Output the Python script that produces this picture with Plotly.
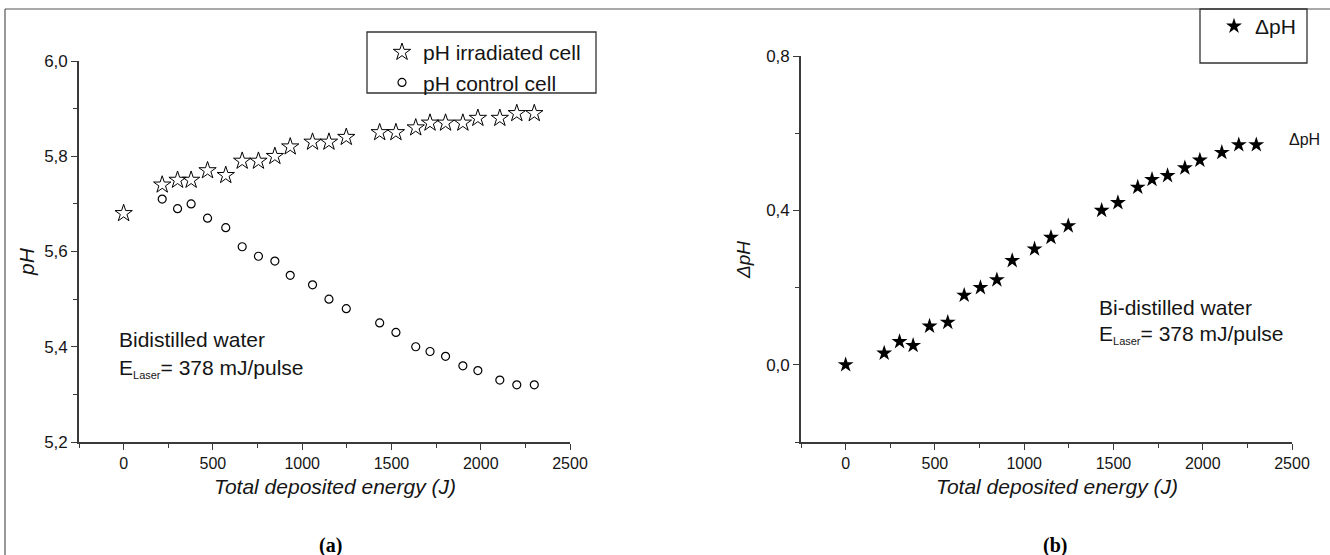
import plotly.graph_objects as go

# ---------------- data ----------------
energy = [0, 216, 302, 378, 470, 572, 664, 755, 847, 933, 1058, 1150, 1247,
          1434, 1525, 1636, 1716, 1803, 1900, 1984, 2107, 2202, 2300]
ph_irradiated = [5.68, 5.74, 5.75, 5.75, 5.77, 5.76, 5.79, 5.79, 5.80, 5.82, 5.83, 5.83, 5.84,
                 5.85, 5.85, 5.86, 5.87, 5.87, 5.87, 5.88, 5.88, 5.89, 5.89]
energy_control = [216, 302, 378, 470, 572, 664, 755, 847, 933, 1058, 1150, 1247,
                  1434, 1525, 1636, 1716, 1803, 1900, 1984, 2107, 2202, 2300]
ph_control = [5.71, 5.69, 5.70, 5.67, 5.65, 5.61, 5.59, 5.58, 5.55, 5.53, 5.50, 5.48,
              5.45, 5.43, 5.40, 5.39, 5.38, 5.36, 5.35, 5.33, 5.32, 5.32]
delta_ph = [0.00, 0.03, 0.06, 0.05, 0.10, 0.11, 0.18, 0.20, 0.22, 0.27, 0.30, 0.33, 0.36,
            0.40, 0.42, 0.46, 0.48, 0.49, 0.51, 0.53, 0.55, 0.57, 0.57]

x_tickvals = [0, 500, 1000, 1500, 2000, 2500]
x_ticktext = ["0", "500", "1000", "1500", "2000", "2500"]
x_minor = [-250, 250, 750, 1250, 1750, 2250]
ph_tickvals = [5.2, 5.4, 5.6, 5.8, 6.0]
ph_ticktext = ["5,2", "5,4", "5,6", "5,8", "6,0"]
ph_minor = [5.3, 5.5, 5.7, 5.9]
d_tickvals = [0.0, 0.4, 0.8]
d_ticktext = ["0,0", "0,4", "0,8"]
d_minor = [-0.2, 0.2, 0.6]

W, H = 1330, 555
FONT = "Arial, Liberation Sans, sans-serif"
AX = "#3a3a3a"
TXT = "#151515"


def px(x):
    return x / W


def py(y):
    return 1 - y / H


fig = go.Figure()

fig.add_trace(go.Scatter(
    x=energy, y=ph_irradiated, mode="markers", name="pH irradiated cell",
    marker=dict(symbol="star-open", size=13, color="black", line=dict(width=1, color="black")),
    xaxis="x", yaxis="y", legend="legend"))
fig.add_trace(go.Scatter(
    x=energy_control, y=ph_control, mode="markers", name="pH control cell",
    marker=dict(symbol="circle-open", size=8, color="black", line=dict(width=1.2, color="black")),
    xaxis="x", yaxis="y", legend="legend"))
fig.add_trace(go.Scatter(
    x=energy, y=delta_ph, mode="markers", name="\u0394pH",
    marker=dict(symbol="star", size=12, color="black", line=dict(width=0)),
    xaxis="x2", yaxis="y2", legend="legend2"))


def xaxis_common(domain, anchor):
    return dict(
        domain=domain, anchor=anchor, range=[-250, 2500],
        tickmode="array", tickvals=x_tickvals, ticktext=x_ticktext,
        ticks="outside", ticklen=6, tickwidth=1.3, tickcolor=AX,
        showline=True, linecolor=AX, linewidth=1.6, showgrid=False, zeroline=False,
        tickfont=dict(family=FONT, size=16, color=TXT), automargin=False,
        minor=dict(tickmode="array", tickvals=x_minor, ticks="outside", ticklen=4,
                   tickwidth=1.2, tickcolor=AX, showgrid=False),
    )


def yaxis_common(domain, anchor, rng, tv, tt, mv):
    return dict(
        domain=domain, anchor=anchor, range=rng,
        tickmode="array", tickvals=tv, ticktext=tt,
        ticks="outside", ticklen=6, tickwidth=1.3, tickcolor=AX,
        showline=True, linecolor=AX, linewidth=1.6, showgrid=False, zeroline=False,
        tickfont=dict(family=FONT, size=17, color=TXT), automargin=False,
        minor=dict(tickmode="array", tickvals=mv, ticks="outside", ticklen=4,
                   tickwidth=1.2, tickcolor=AX, showgrid=False),
    )


fig.update_layout(
    width=W, height=H,
    margin=dict(l=0, r=0, t=0, b=0),
    paper_bgcolor="white", plot_bgcolor="rgba(0,0,0,0)",
    xaxis=xaxis_common([px(79), px(570)], "y"),
    yaxis=yaxis_common([py(442), py(61)], "x", [5.2, 6.0], ph_tickvals, ph_ticktext, ph_minor),
    xaxis2=xaxis_common([px(801), px(1292)], "y2"),
    yaxis2=yaxis_common([py(442), py(56)], "x2", [-0.2, 0.8], d_tickvals, d_ticktext, d_minor),
    legend=dict(x=px(381), y=py(32), xanchor="left", yanchor="top",
                bgcolor="rgba(0,0,0,0)", borderwidth=0,
                font=dict(family=FONT, size=21, color=TXT),
                tracegroupgap=0, itemwidth=32),
    legend2=dict(x=px(1213), y=py(6), xanchor="left", yanchor="top",
                 bgcolor="rgba(0,0,0,0)", borderwidth=0,
                 font=dict(family=FONT, size=21, color=TXT), itemwidth=32),
    showlegend=True,
)

shapes = [
    # outer frame (top and left edges)
    dict(type="line", xref="paper", yref="paper", x0=px(5), x1=1, y0=py(9), y1=py(9),
         line=dict(color="#555", width=1.2)),
    dict(type="line", xref="paper", yref="paper", x0=px(5), x1=px(5), y0=py(9), y1=0,
         line=dict(color="#555", width=1.2)),
    # legend boxes
    dict(type="rect", xref="paper", yref="paper", x0=px(367), x1=px(596), y0=py(93), y1=py(32),
         line=dict(color="#333", width=1.3), fillcolor="rgba(0,0,0,0)"),
    dict(type="rect", xref="paper", yref="paper", x0=px(1200), x1=px(1307), y0=py(63), y1=py(9),
         line=dict(color="#333", width=1.3), fillcolor="rgba(0,0,0,0)"),
]
fig.update_layout(shapes=shapes)

sub = "<sub><span style='font-size:11px'>Laser</span></sub>"
ann = [
    dict(text="Bidistilled water", x=px(117), y=py(339), xanchor="left", yanchor="middle",
         font=dict(family=FONT, size=21, color=TXT)),
    dict(text="E" + sub + "= 378 mJ/pulse", x=px(117), y=py(368), xanchor="left", yanchor="middle",
         font=dict(family=FONT, size=21, color=TXT)),
    dict(text="Bi-distilled water", x=px(1097), y=py(307), xanchor="left", yanchor="middle",
         font=dict(family=FONT, size=21, color=TXT)),
    dict(text="E" + sub + "= 378 mJ/pulse", x=px(1097), y=py(334), xanchor="left", yanchor="middle",
         font=dict(family=FONT, size=21, color=TXT)),
    dict(text="\u0394pH", x=px(1287), y=py(139), xanchor="left", yanchor="middle",
         font=dict(family=FONT, size=16, color=TXT)),
    dict(text="<i>Total deposited energy (J)</i>", x=px(335), y=py(486), xanchor="center", yanchor="middle",
         font=dict(family=FONT, size=21, color=TXT)),
    dict(text="<i>Total deposited energy (J)</i>", x=px(1057), y=py(486), xanchor="center", yanchor="middle",
         font=dict(family=FONT, size=21, color=TXT)),
    dict(text="<i>pH</i>", x=px(26), y=py(262), xanchor="center", yanchor="middle", textangle=-90,
         font=dict(family=FONT, size=21, color=TXT)),
    dict(text="<i>\u0394pH</i>", x=px(743), y=py(260), xanchor="center", yanchor="middle", textangle=-90,
         font=dict(family=FONT, size=19, color=TXT)),
    dict(text="<b>(a)</b>", x=px(330), y=py(545), xanchor="center", yanchor="middle",
         font=dict(family="Liberation Serif, Times New Roman, serif", size=20, color="black")),
    dict(text="<b>(b)</b>", x=px(1055), y=py(545), xanchor="center", yanchor="middle",
         font=dict(family="Liberation Serif, Times New Roman, serif", size=20, color="black")),
]
for a in ann:
    a.update(xref="paper", yref="paper", showarrow=False)
fig.update_layout(annotations=ann)

fig.write_html("out.html", post_script="document.body.style.margin='0px';")
